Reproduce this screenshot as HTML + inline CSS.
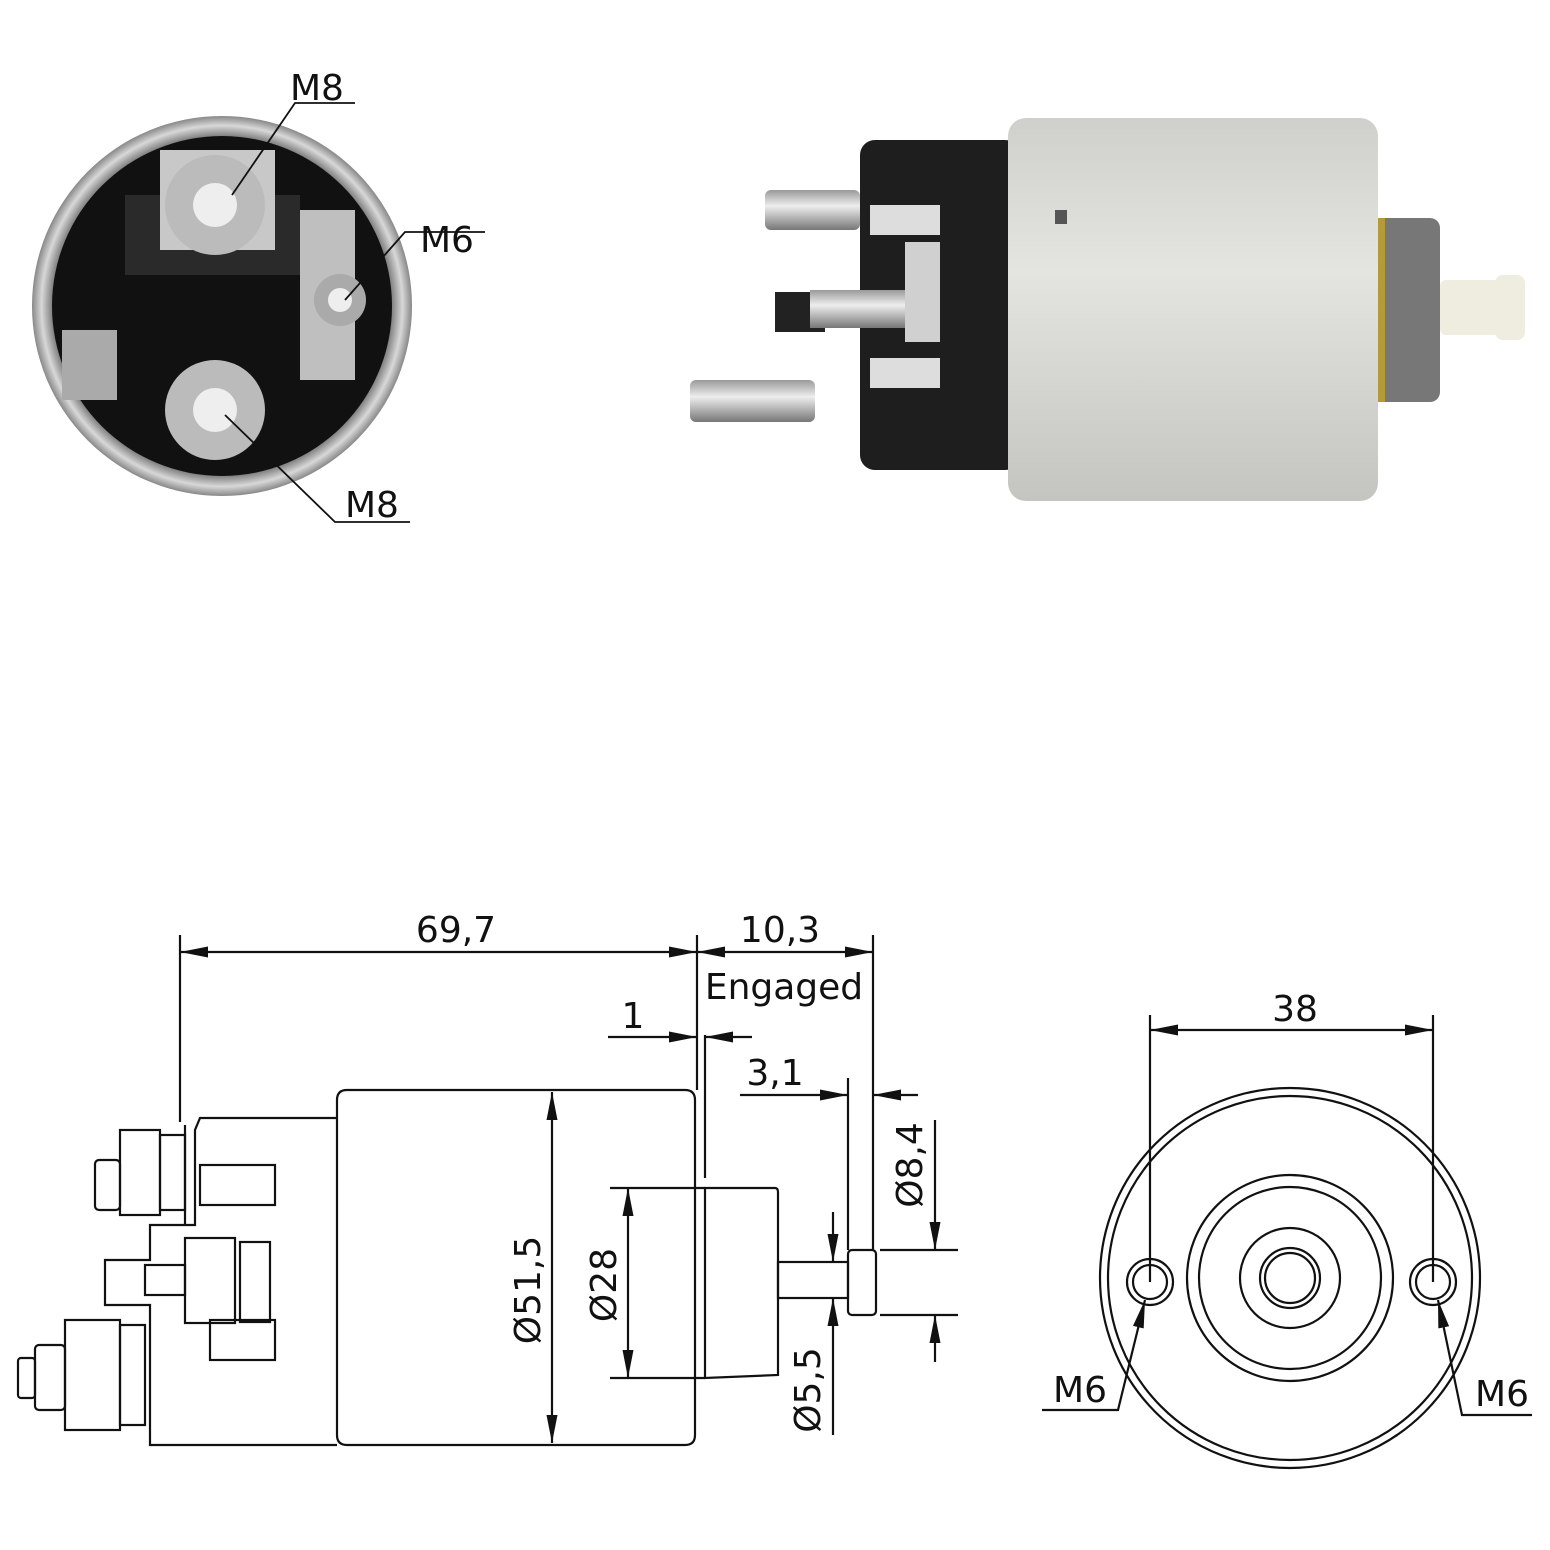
<!DOCTYPE html>
<html><head><meta charset="utf-8"><style>
html,body{margin:0;padding:0;background:#fff}
svg{display:block}
text{font-family:"DejaVu Sans","Liberation Sans",sans-serif;fill:#111}
</style></head><body>
<svg width="1550" height="1550" viewBox="0 0 1550 1550" xmlns="http://www.w3.org/2000/svg">
<defs>
<radialGradient id="rim" cx="50%" cy="50%" r="50%">
<stop offset="88%" stop-color="#6a6a6a"/><stop offset="95%" stop-color="#d8d8d8"/><stop offset="100%" stop-color="#888"/>
</radialGradient>
<linearGradient id="can" x1="0" y1="0" x2="0" y2="1">
<stop offset="0" stop-color="#cfcfcb"/><stop offset="0.4" stop-color="#e4e4e0"/><stop offset="1" stop-color="#c4c4c0"/>
</linearGradient>
<linearGradient id="stud" x1="0" y1="0" x2="0" y2="1">
<stop offset="0" stop-color="#999"/><stop offset="0.4" stop-color="#eee"/><stop offset="1" stop-color="#777"/>
</linearGradient>
<marker id="a" viewBox="0 0 10 10" refX="10" refY="5" markerWidth="28" markerHeight="11" markerUnits="userSpaceOnUse" orient="auto-start-reverse" preserveAspectRatio="none"><path d="M0,0 L10,5 L0,10 z" fill="#111"/></marker>
</defs>

<!-- top-left end view photo -->
<circle cx="222" cy="306" r="190" fill="url(#rim)"/>
<circle cx="222" cy="306" r="170" fill="#111"/>
<rect x="125" y="195" width="175" height="80" fill="#2a2a2a"/>
<rect x="160" y="150" width="115" height="100" fill="#c8c8c8"/>
<circle cx="215" cy="205" r="50" fill="#bbb"/><circle cx="215" cy="205" r="22" fill="#eee"/>
<circle cx="215" cy="410" r="50" fill="#bbb"/><circle cx="215" cy="410" r="22" fill="#eee"/>
<rect x="300" y="210" width="55" height="170" fill="#bfbfbf"/>
<circle cx="340" cy="300" r="26" fill="#aaa"/><circle cx="340" cy="300" r="12" fill="#eee"/>
<rect x="62" y="330" width="55" height="70" fill="#aaa"/>
<g stroke="#111" stroke-width="1.8" fill="none">
<polyline points="232,195 295,103 355,103"/>
<polyline points="345,300 405,232 485,232"/>
<polyline points="225,415 335,522 410,522"/>
</g>
<text x="290" y="100" font-size="36">M8</text>
<text x="420" y="252" font-size="36">M6</text>
<text x="345" y="517" font-size="36">M8</text>

<!-- top-right side photo -->
<rect x="1375" y="218" width="65" height="184" rx="10" fill="#777"/>
<rect x="1375" y="218" width="10" height="184" fill="#b59a3a"/>
<rect x="1440" y="280" width="65" height="55" rx="6" fill="#efece0"/>
<rect x="1495" y="275" width="30" height="65" rx="8" fill="#efece0"/>
<rect x="860" y="140" width="160" height="330" rx="15" fill="#1e1e1e"/>
<rect x="1008" y="118" width="370" height="383" rx="18" fill="url(#can)"/>
<rect x="1055" y="210" width="12" height="14" fill="#555"/>
<rect x="765" y="190" width="95" height="40" rx="6" fill="url(#stud)"/>
<rect x="690" y="380" width="125" height="42" rx="6" fill="url(#stud)"/>
<rect x="775" y="292" width="50" height="40" fill="#222"/>
<rect x="810" y="290" width="100" height="38" fill="url(#stud)"/>
<rect x="905" y="242" width="35" height="100" fill="#d0d0d0"/>
<rect x="870" y="205" width="70" height="30" fill="#ddd"/>
<rect x="870" y="358" width="70" height="30" fill="#ddd"/>

<!-- bottom side drawing -->
<g stroke="#111" stroke-width="2.2" fill="none">
<path d="M337,1100 Q337,1090 347,1090 L685,1090 Q695,1090 695,1100 L695,1435 Q695,1445 685,1445 L347,1445 Q337,1445 337,1435 Z"/>
<line x1="705" y1="1035" x2="705" y2="1178"/>
<path d="M705,1188 L775,1188 Q778,1188 778,1192 L778,1375 L705,1378 Z"/>
<rect x="778" y="1262" width="70" height="36"/>
<rect x="848" y="1250" width="28" height="65" rx="4"/>
<line x1="848" y1="1078" x2="848" y2="1250"/>
<line x1="873" y1="935" x2="873" y2="1250"/>
<path d="M337,1118 L200,1118 L195,1130 L195,1225 L150,1225 L150,1260 L105,1260 L105,1305 L150,1305 L150,1445 L337,1445"/>
<polyline points="185,1125 185,1225"/>
<polyline points="180,935 180,1122"/>
<rect x="200" y="1165" width="75" height="40"/>
<rect x="210" y="1320" width="65" height="40"/>
<rect x="120" y="1130" width="40" height="85"/>
<rect x="95" y="1160" width="25" height="50" rx="4"/>
<rect x="160" y="1135" width="25" height="75"/>
<rect x="185" y="1238" width="50" height="85"/>
<rect x="145" y="1265" width="40" height="30"/>
<rect x="240" y="1242" width="30" height="80"/>
<rect x="65" y="1320" width="55" height="110"/>
<rect x="120" y="1325" width="25" height="100"/>
<rect x="35" y="1345" width="30" height="65" rx="4"/>
<rect x="18" y="1358" width="17" height="40" rx="3"/>
<line x1="180" y1="952" x2="697" y2="952" marker-start="url(#a)" marker-end="url(#a)"/>
<line x1="697" y1="935" x2="697" y2="1090"/>
<line x1="697" y1="952" x2="873" y2="952" marker-start="url(#a)" marker-end="url(#a)"/>
<line x1="608" y1="1037" x2="697" y2="1037" marker-end="url(#a)"/>
<line x1="752" y1="1037" x2="705" y2="1037" marker-end="url(#a)"/>
<line x1="740" y1="1095" x2="848" y2="1095" marker-end="url(#a)"/>
<line x1="918" y1="1095" x2="873" y2="1095" marker-end="url(#a)"/>
<line x1="552" y1="1092" x2="552" y2="1443" marker-start="url(#a)" marker-end="url(#a)"/>
<line x1="610" y1="1188" x2="705" y2="1188"/>
<line x1="610" y1="1378" x2="705" y2="1378"/>
<line x1="628" y1="1188" x2="628" y2="1378" marker-start="url(#a)" marker-end="url(#a)"/>
<line x1="833" y1="1212" x2="833" y2="1262" marker-end="url(#a)"/>
<line x1="833" y1="1435" x2="833" y2="1298" marker-end="url(#a)"/>
<line x1="880" y1="1250" x2="958" y2="1250"/>
<line x1="880" y1="1315" x2="958" y2="1315"/>
<line x1="935" y1="1120" x2="935" y2="1250" marker-end="url(#a)"/>
<line x1="935" y1="1362" x2="935" y2="1315" marker-end="url(#a)"/>
<circle cx="1290" cy="1278" r="190"/>
<circle cx="1290" cy="1278" r="182"/>
<circle cx="1290" cy="1278" r="103"/>
<circle cx="1290" cy="1278" r="91"/>
<circle cx="1290" cy="1278" r="50"/>
<circle cx="1290" cy="1278" r="30"/>
<circle cx="1290" cy="1278" r="25"/>
<circle cx="1150" cy="1282" r="23"/><circle cx="1150" cy="1282" r="17"/>
<circle cx="1433" cy="1282" r="23"/><circle cx="1433" cy="1282" r="17"/>
<line x1="1150" y1="1015" x2="1150" y2="1282"/>
<line x1="1433" y1="1015" x2="1433" y2="1282"/>
<line x1="1150" y1="1030" x2="1433" y2="1030" marker-start="url(#a)" marker-end="url(#a)"/>
<polyline points="1042,1410 1118,1410 1145,1300" marker-end="url(#a)"/>
<polyline points="1532,1415 1462,1415 1438,1300" marker-end="url(#a)"/>
</g>
<text x="456" y="942" font-size="36" text-anchor="middle">69,7</text>
<text x="780" y="942" font-size="36" text-anchor="middle">10,3</text>
<text x="784" y="999" font-size="36" text-anchor="middle">Engaged</text>
<text x="633" y="1028" font-size="36" text-anchor="middle">1</text>
<text x="775" y="1085" font-size="36" text-anchor="middle">3,1</text>
<text x="1295" y="1021" font-size="36" text-anchor="middle">38</text>
<text x="1080" y="1402" font-size="36" text-anchor="middle">M6</text>
<text x="1502" y="1406" font-size="36" text-anchor="middle">M6</text>
<text font-size="36" text-anchor="middle" transform="translate(540,1290) rotate(-90)">Ø51,5</text>
<text font-size="36" text-anchor="middle" transform="translate(616,1285) rotate(-90)">Ø28</text>
<text font-size="36" text-anchor="middle" transform="translate(820,1390) rotate(-90)">Ø5,5</text>
<text font-size="36" text-anchor="middle" transform="translate(922,1165) rotate(-90)">Ø8,4</text>
</svg>
</body></html>
